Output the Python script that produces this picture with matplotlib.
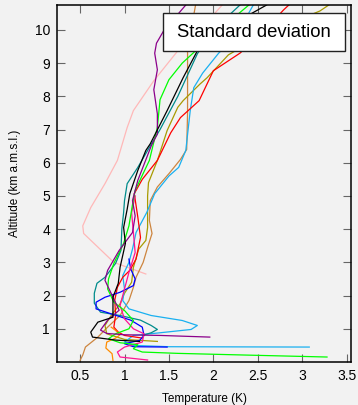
import matplotlib
matplotlib.use("Agg")
import matplotlib.pyplot as plt
from matplotlib.patches import Rectangle
from matplotlib.ticker import FuncFormatter

# profiles of standard deviation (K) against altitude (km)
pink_T = [1.24, 0.88, 0.54, 0.53, 0.62, 0.78, 0.92, 1.03, 1.1, 1.33, 1.6, 1.85, 2.1]
pink_z = [2.65, 3.0, 3.87, 4.1, 4.65, 5.37, 6.07, 7.06, 7.57, 8.47, 9.37, 10.0, 10.75]

purple_T = [1.96, 1.4, 1.0, 0.8, 0.73, 0.81, 0.94, 0.87, 0.78, 0.81, 0.94, 1.09, 1.12, 1.09,
            1.15, 1.3, 1.37, 1.37, 1.33, 1.37, 1.34, 1.36, 1.44, 1.69]
purple_z = [0.75, 0.8, 0.82, 0.86, 0.96, 1.26, 1.56, 1.95, 2.46, 2.76, 3.36, 3.9, 4.4, 4.86,
            5.47, 6.5, 6.87, 7.47, 8.2, 8.8, 9.3, 9.6, 9.97, 10.75]

green_T = [3.28, 2.5, 1.6, 1.2, 1.1, 1.15, 0.95, 0.82, 0.9, 1.05, 1.1, 1.0, 0.88, 0.81, 0.82,
           0.88, 0.99, 1.05, 1.1, 1.12, 1.28, 1.37, 1.4, 1.5, 1.65, 1.8, 2.0, 2.2, 2.4]
green_z = [0.15, 0.2, 0.26, 0.3, 0.4, 0.52, 0.58, 0.7, 0.85, 1.0, 1.25, 1.55, 1.8, 2.2, 2.5,
           2.97, 3.57, 4.1, 4.9, 5.17, 6.07, 7.06, 7.9, 8.5, 9.0, 9.37, 9.8, 10.3, 10.75]

black_T = [1.17, 0.9, 0.64, 0.62, 0.7, 0.87, 0.87, 0.93, 0.95, 1.01, 0.99, 1.03, 1.06, 1.15,
           1.24, 1.29, 1.48, 1.66, 1.82, 2.1, 2.6]
black_z = [0.62, 0.66, 0.75, 0.9, 1.2, 1.35, 1.95, 2.37, 2.85, 3.57, 4.05, 4.6, 5.07, 5.77,
           6.37, 6.57, 7.57, 8.56, 9.37, 10.0, 10.75]

teal_T = [1.2, 1.3, 1.37, 1.3, 1.18, 0.95, 0.73, 0.66, 0.66, 0.69, 0.78, 0.9, 0.96, 0.97,
          0.99, 1.0, 1.03, 1.15, 1.26, 1.4, 1.6, 1.82, 2.0, 2.3]
teal_z = [0.8, 0.88, 0.98, 1.1, 1.26, 1.4, 1.5, 1.77, 2.07, 2.37, 2.55, 2.97, 3.36, 4.0,
          4.5, 4.86, 5.37, 5.86, 6.37, 7.0, 8.0, 9.28, 10.0, 10.75]

red_T = [1.2, 1.0, 0.93, 0.88, 0.9, 0.89, 0.92, 0.98, 1.06, 1.13, 1.15, 1.18, 1.15, 1.11,
         1.2, 1.37, 1.52, 1.63, 1.84, 2.0, 2.3, 2.55, 2.79, 2.85]
red_z = [0.72, 0.8, 0.9, 1.05, 1.41, 1.86, 2.25, 2.55, 2.76, 3.1, 3.36, 3.75, 4.36, 5.07,
         5.5, 6.07, 6.9, 7.36, 7.87, 8.77, 9.3, 9.9, 10.6, 10.75]

olive_T = [1.37, 1.0, 0.8, 0.78, 0.85, 0.95, 1.0, 1.08, 1.1, 1.16, 1.24, 1.26, 1.26, 1.27,
           1.37, 1.48, 1.6, 1.66, 1.85, 1.93, 2.17, 2.6, 3.2, 3.3]
olive_z = [0.62, 0.68, 0.85, 1.1, 1.4, 1.75, 2.07, 2.4, 2.85, 3.4, 3.66, 4.05, 5.0, 5.4,
           6.07, 6.97, 7.67, 7.87, 8.37, 8.56, 9.25, 9.9, 10.57, 10.75]

skyblue_T = [3.08, 1.5, 1.1, 1.0, 1.1, 1.4, 1.75, 1.82, 1.65, 1.3, 1.05, 0.98, 1.0, 0.98,
             1.05, 1.09, 1.13, 1.25, 1.34, 1.5, 1.61, 1.69, 1.74, 1.78, 1.88, 2.06, 2.25, 2.45]
skyblue_z = [0.45, 0.46, 0.5, 0.6, 0.8, 0.88, 0.98, 1.1, 1.25, 1.4, 1.6, 1.85, 2.2, 2.6,
             3.0, 3.4, 3.9, 4.5, 5.07, 5.6, 5.86, 6.37, 7.57, 8.26, 8.7, 9.3, 9.8, 10.75]

brown_T = [0.5, 0.53, 0.56, 0.7, 0.81, 0.95, 1.05, 1.1, 1.13, 1.21, 1.26, 1.31, 1.28, 1.29,
           1.37, 1.5, 1.63, 1.7, 1.71, 1.71, 1.75, 1.8]
brown_z = [0.05, 0.21, 0.45, 0.75, 1.05, 1.4, 1.85, 2.25, 2.55, 3.0, 3.45, 3.87, 4.26, 4.86,
           5.27, 5.67, 6.1, 6.4, 7.5, 9.37, 10.0, 10.75]

blue_T = [1.48, 1.1, 1.0, 1.17, 1.22, 1.2, 1.07, 0.85, 0.68, 0.68, 0.78, 0.95, 1.1, 1.12,
          1.07, 1.05]
blue_z = [0.45, 0.46, 0.55, 0.65, 0.8, 1.05, 1.26, 1.45, 1.6, 1.8, 1.95, 2.1, 2.3, 2.5,
          2.8, 3.1]

deeppink_T = [1.26, 0.95, 0.92, 1.0, 1.2, 1.22, 1.1, 1.0, 0.95, 1.0, 1.05, 1.12, 1.1, 1.08, 1.12]
deeppink_z = [0.06, 0.15, 0.3, 0.45, 0.6, 0.85, 1.0, 1.3, 1.7, 2.2, 2.7, 3.3, 3.9, 4.5, 5.0]

orange_T = [0.87, 0.86, 0.79, 0.8, 0.9, 0.95, 0.9, 0.85]
orange_z = [0.05, 0.25, 0.42, 0.6, 0.72, 0.82, 0.95, 1.05]

series = [
    (pink_T, pink_z, "#ffb8b8"),
    (brown_T, brown_z, "#cd853f"),
    (olive_T, olive_z, "#a89a00"),
    (skyblue_T, skyblue_z, "#1ab0f0"),
    (red_T, red_z, "#ff0000"),
    (teal_T, teal_z, "#008b8b"),
    (blue_T, blue_z, "#0000ff"),
    (orange_T, orange_z, "#ff8c00"),
    (deeppink_T, deeppink_z, "#ff1493"),
    (green_T, green_z, "#00ff00"),
    (purple_T, purple_z, "#8b008b"),
    (black_T, black_z, "#000000"),
]

bg = "#f2f2f2"
fig = plt.figure(figsize=(3.58, 4.05), dpi=100, facecolor=bg)
ax = fig.add_axes([57 / 358, 1 - 362 / 405, 294 / 358, 357 / 405])
ax.set_facecolor(bg)

for T, z, c in series:
    ax.plot(T, z, color=c, lw=0.9)

ax.set_xlim(0.24, 3.55)
ax.set_ylim(0, 10.75)
ax.set_xticks([0.5, 1, 1.5, 2, 2.5, 3, 3.5])
ax.set_yticks(range(1, 11))
ax.xaxis.set_major_formatter(FuncFormatter(lambda v, p: "%g" % v))
ax.tick_params(direction="in", length=5.5, width=0.8, color="#666666",
               top=True, right=True, labelsize=10, pad=5)
for lab in ax.get_xticklabels() + ax.get_yticklabels():
    lab.set_family("Liberation Sans")
for s in ax.spines.values():
    s.set_linewidth(1.1)

ax.set_xlabel("Temperature (K)", family="Liberation Sans", fontsize=8.5, labelpad=7)
ax.set_ylabel("Altitude (km a.m.s.l.)", family="Liberation Sans", fontsize=8.5, labelpad=10)

# key box drawn over the curves
ax.add_patch(Rectangle((0.361, 0.871), 0.619, 0.107, transform=ax.transAxes,
                       fc="white", ec="#222222", lw=1.0, zorder=9))
ax.text(0.67, 0.924, "Standard deviation", transform=ax.transAxes, ha="center", va="center",
        family="Liberation Sans", fontsize=13.3, zorder=10)

fig.savefig("out.png", dpi=100, facecolor=bg)
